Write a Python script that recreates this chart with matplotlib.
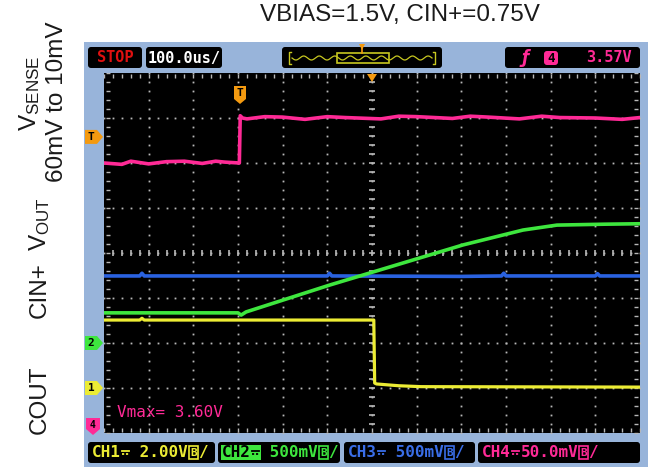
import matplotlib
matplotlib.use("Agg")
import matplotlib.pyplot as plt
from matplotlib.transforms import Affine2D
from matplotlib.patches import Rectangle, FancyBboxPatch, Polygon
import numpy as np

plt.rcParams['mathtext.fontset'] = 'custom'
plt.rcParams['mathtext.rm'] = 'Liberation Sans'

W, H = 655, 467

# ---------------- data (time in us, level in screen divisions from centre) ----------
title = "VBIAS=1.5V, CIN+=0.75V"
time_per_div = "100.0us/"
trigger_text = "3.57V"
vmax_text = "Vmax= 3.60V"
channel_names = ["CH1", "CH2", "CH3", "CH4"]
channel_scales = [" 2.00V", " 500mV", " 500mV", "50.0mV"]
left_labels = ["COUT", "CIN+", r"$\mathregular{V_{OUT}}$", "60mV to 10mV", r"$\mathregular{V_{SENSE}}$"]

ch4_t = [-600, -560, -540, -500, -460, -420, -380, -350, -330, -297, -295, -290, -280, -240, -200, -150, -100, -60, 20, 60, 100, 180, 220, 260, 330, 380, 420, 500, 560, 600]
ch4_v = [2.00, 1.97, 2.04, 1.98, 2.03, 2.04, 1.99, 2.04, 2.02, 2.00, 3.05, 3.00, 2.98, 3.03, 3.02, 2.97, 3.03, 3.01, 2.98, 3.04, 3.03, 2.99, 3.04, 3.02, 2.98, 3.04, 3.01, 3.00, 2.97, 3.01]

ch2_t = [-600, -300, -293, -282, -94, 204, 338, 414, 520, 600]
ch2_v = [-1.33, -1.33, -1.38, -1.31, -0.71, 0.18, 0.51, 0.62, 0.64, 0.65]

ch3_t = [-600, -520, -515, -510, -200, -120, -100, -95, -90, 200, 290, 295, 300, 400, 500, 505, 510, 600]
ch3_v = [-0.51, -0.51, -0.45, -0.51, -0.51, -0.51, -0.51, -0.45, -0.51, -0.52, -0.51, -0.45, -0.51, -0.51, -0.51, -0.46, -0.51, -0.51]

ch1_t = [-600, -520, -515, -510, -200, 4, 6, 10, 60, 110, 600]
ch1_v = [-1.49, -1.49, -1.45, -1.49, -1.49, -1.49, -2.89, -2.91, -2.95, -2.97, -2.98]

marker_levels = {"T": 2.58, "2": -2.0, "1": -3.0}

# ---------------- figure ----------------
fig = plt.figure(figsize=(W / 100, H / 100), dpi=100)
fig.patch.set_facecolor("white")
P = Affine2D().scale(1, -1).translate(0, H)  # image-pixel coordinates (y down)

fig.patches.append(Rectangle((84, 42), 564, 425, transform=P, facecolor="#98b4da", edgecolor="none", zorder=-5))

sx0, sx1, sy0, sy1 = 104, 640, 73, 433
ax = fig.add_axes([sx0 / W, 1 - sy1 / H, (sx1 - sx0) / W, (sy1 - sy0) / H])
ax.set_zorder(1)
ax.set_facecolor("black")
ax.set_xlim(-600, 600)
ax.set_ylim(-4, 4)
ax.set_xticks([])
ax.set_yticks([])
for s in ax.spines.values():
    s.set_visible(False)

dotc = "#b8b8b8"
for gx in range(-500, 501, 100):
    ys = np.arange(-4, 4.01, 0.2)
    ax.plot([gx] * len(ys), ys, ls="none", marker="s", ms=1.3, mec="none", mfc=dotc, zorder=1)
for gy in range(-3, 4):
    xs = np.arange(-600, 601, 20)
    ax.plot(xs, [gy] * len(xs), ls="none", marker="s", ms=1.3, mec="none", mfc=dotc, zorder=1)
xs = np.arange(-580, 600, 20)
ax.plot(xs, [0] * len(xs), ls="none", marker="|", ms=5, mew=1.2, color=dotc, zorder=1)
ys = np.arange(-3.8, 4, 0.2)
ax.plot([0] * len(ys), ys, ls="none", marker="_", ms=5, mew=1.2, color=dotc, zorder=1)
xs = np.arange(-600, 601, 20)
ax.plot(xs, [3.93] * len(xs), ls="none", marker="|", ms=3, mew=1, color=dotc, zorder=1)
ax.plot(xs, [-3.93] * len(xs), ls="none", marker="|", ms=3, mew=1, color=dotc, zorder=1)
ys = np.arange(-4, 4.01, 0.2)
ax.plot([-592] * len(ys), ys, ls="none", marker="_", ms=3, mew=1, color=dotc, zorder=1)
ax.plot([592] * len(ys), ys, ls="none", marker="_", ms=3, mew=1, color=dotc, zorder=1)

# traces
ax.plot(ch3_t, ch3_v, color="#2a62e0", lw=2.6, zorder=3)
ax.plot(ch2_t, ch2_v, color="#3ee63e", lw=2.6, zorder=4)
ax.plot(ch1_t, ch1_v, color="#ecec34", lw=2.3, zorder=3)
ax.plot(ch4_t, ch4_v, color="#ff2a96", lw=2.6, zorder=4)

ax.text(-570, -3.55, vmax_text, color="#ff2a96", fontsize=11.5, family="DejaVu Sans Mono", va="center", ha="left")

TOP = 10
fig.patches.append(Polygon([(367, 74), (377, 74), (372, 82)], closed=True, transform=P, facecolor="#f49a10", edgecolor="none", zorder=TOP))
fig.patches.append(Polygon([(234, 86), (246, 86), (246, 99), (240, 104), (234, 99)], closed=True, transform=P, facecolor="#f49a10", edgecolor="none", zorder=TOP))
fig.text(240, 93, "T", transform=P, ha="center", va="center", fontsize=8, weight="bold", family="DejaVu Sans Mono", color="black", zorder=TOP + 1)

def ytop(level):
    return 253 - level * 45

tag_cols = {"T": "#f49a10", "2": "#3ee63e", "1": "#ecec34"}
for k, lv in marker_levels.items():
    yc = ytop(lv)
    fig.patches.append(Polygon([(85, yc - 7), (97, yc - 7), (103, yc), (97, yc + 7), (85, yc + 7)], closed=True,
                               transform=P, facecolor=tag_cols[k], edgecolor="none", zorder=TOP))
    fig.text(91, yc, k, transform=P, ha="center", va="center", fontsize=8, weight="bold", family="DejaVu Sans Mono", color="black", zorder=TOP + 1)
fig.patches.append(Polygon([(86, 418), (100, 418), (100, 429), (93, 435), (86, 429)], closed=True,
                           transform=P, facecolor="#ff2a96", edgecolor="none", zorder=TOP))
fig.text(93, 425, "4", transform=P, ha="center", va="center", fontsize=7, weight="bold", family="DejaVu Sans Mono", color="black", zorder=TOP + 1)

FS = 11
mono = dict(family=["DejaVu Sans Mono", "DejaVu Sans"], weight="bold", fontsize=FS)
cw = 0.602 * FS * 100 / 72

def rbox(x0, y0, x1, y1, fc="black", ec="none", lw=0, z=2):
    p = FancyBboxPatch((x0, H - y1), x1 - x0, y1 - y0, boxstyle="round,pad=0,rounding_size=3",
                       facecolor=fc, edgecolor=ec, lw=lw, zorder=z, transform=None)
    fig.patches.append(p)

def line(xs, ys, c, lw=1.0, z=4, ls="-"):
    fig.lines.append(plt.Line2D(xs, [H - y for y in ys], color=c, lw=lw, ls=ls, transform=None, figure=fig, zorder=z))

# top bar
rbox(88, 47, 142, 68)
fig.text(115, 58, "STOP", transform=P, ha="center", va="center", color="#e01010", **mono)
rbox(146, 47, 222, 68)
fig.text(184, 58, time_per_div, transform=P, ha="center", va="center", color="white", **mono)
rbox(282, 47, 442, 68)
wx = np.linspace(292, 432, 300)
wy = 58 + 2.0 * np.sin((wx - 292) / 140 * 2 * np.pi * 9)
line(wx, wy, "#c8c820", 0.9)
line([291, 289, 289, 291], [52, 52, 64, 64], "#c8c820", 1)
line([433, 435, 435, 433], [52, 52, 64, 64], "#c8c820", 1)
fig.patches.append(Rectangle((337, H - 63), 52, 10, facecolor="none", edgecolor="#c8c820", lw=1.2, transform=None, zorder=4))
fig.patches.append(Polygon([(359, 44), (365, 44), (362, 50)], closed=True, transform=P, facecolor="#f49a10", edgecolor="none", zorder=TOP))
line([362, 362], [48, 53], "#f49a10", 1.2, z=TOP)

rbox(505, 47, 640, 68)
fig.text(525, 58, "\u0192", transform=P, ha="center", va="center", color="#ff2a96", fontsize=12, weight="bold", style="italic", family="DejaVu Sans", zorder=4)
rbox(544, 51, 558, 65, fc="#ff2a96", z=3)
fig.text(551, 58, "4", transform=P, ha="center", va="center", color="black", fontsize=9, weight="bold", family="DejaVu Sans Mono", zorder=4)
fig.text(632, 58, trigger_text, transform=P, ha="right", va="center", color="#ff2a96", zorder=4, **mono)

# bottom bar
FSB = 11.5
monob = dict(family=["DejaVu Sans Mono", "DejaVu Sans"], weight="bold", fontsize=FSB)
cwb = 0.602 * FSB * 100 / 72
bot = [(88, 215, "#ecec34"), (218, 340, "#3ee63e"), (344, 475, "#3a6ee8"), (478, 640, "#ff2a96")]
yb = 452.5
for (x0, x1, c), nm, sc in zip(bot, channel_names, channel_scales):
    rbox(x0, 442, x1, 463)
    xt = x0 + 4
    if nm == "CH2":
        fig.patches.append(Rectangle((xt - 1, H - 460), 4 * cwb + 2, 15, transform=None, facecolor=c, edgecolor="none", zorder=3))
        fig.text(xt, yb, nm, transform=P, ha="left", va="center", color="black", zorder=4, **monob)
        dc = "black"
    else:
        fig.text(xt, yb, nm, transform=P, ha="left", va="center", color=c, zorder=4, **monob)
        dc = c
    # DC coupling symbol (solid line over dashed line)
    sx = xt + 3 * cwb + 1
    line([sx, sx + cwb - 2], [yb - 2, yb - 2], dc, 1.3)
    line([sx, sx + cwb - 2], [yb + 1.5, yb + 1.5], dc, 1.3, ls=(0, (1.2, 1.0)))
    xs_ = xt + 4 * cwb
    fig.text(xs_, yb, sc, transform=P, ha="left", va="center", color=c, zorder=4, **monob)
    tx = xs_ + len(sc) * cwb
    fig.patches.append(Rectangle((tx + 1, H - 459), cwb - 1, 13, transform=None, facecolor="none", edgecolor=c, lw=1.2, zorder=4))
    fig.text(tx + cwb / 2 + 0.5, yb, "B", transform=P, ha="center", va="center", color=c, zorder=4, family="DejaVu Sans Mono", weight="bold", fontsize=8)
    fig.text(tx + cwb, yb, "/", transform=P, ha="left", va="center", color=c, zorder=4, **monob)

# title and left labels
fig.text(400, 15, title, transform=P, ha="center", va="center", fontsize=17.5, family="Liberation Sans", color="#1a1a1a")
lab_kw = dict(transform=P, rotation=90, ha="center", va="center", fontsize=17.5, family="Liberation Sans", color="#1a1a1a")
fig.text(40, 400, left_labels[0], **lab_kw)
fig.text(40, 290, left_labels[1], **lab_kw)
fig.text(40, 224, left_labels[2], **lab_kw)
fig.text(57, 102, left_labels[3], **lab_kw)
fig.text(30, 93, left_labels[4], **lab_kw)

fig.savefig("out.png", dpi=100, facecolor="white")
